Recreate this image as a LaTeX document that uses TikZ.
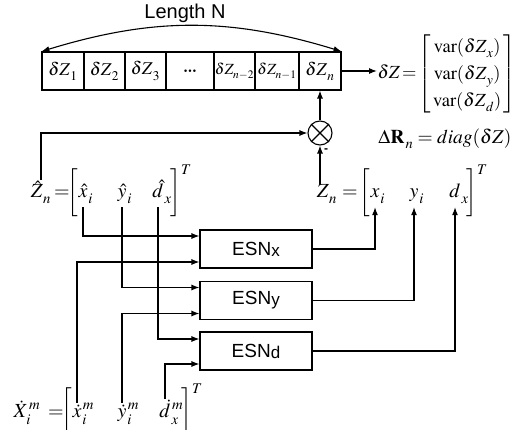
\documentclass[tikz,border=0pt]{standalone}
\usepackage{mathptmx}
\usepackage[no-math]{fontspec}
\newfontfamily\arialfont{Liberation Sans}
\usetikzlibrary{arrows.meta}
\newcommand{\lsb}[1]{_{\raisebox{-2.5pt}{$\scriptstyle\hspace{1pt}#1$}}}
\newcommand{\lsup}[1]{^{\hspace{1.5pt}#1}}
\begin{document}
\begin{tikzpicture}[x=1pt,y=-1pt,
  >={Latex[length=8pt,width=6pt]}, line width=1.1pt,
  mt/.style={font=\fontsize{20}{24}\selectfont, inner sep=0pt, anchor=base},
  cell/.style={draw, minimum height=38pt, inner sep=0pt, font=\fontsize{18}{22}\selectfont},
  esn/.style={draw, minimum width=112pt, minimum height=38pt, inner sep=0pt, font=\arialfont\fontsize{19}{22}\selectfont}]
\useasboundingbox (0,0) rectangle (522,430);

% buffer
\node[cell, minimum width=42pt] (c1) at (63,71) {$\delta Z\lsb{1}$};
\node[cell, minimum width=41pt] (c2) at (104.5,71) {$\delta Z\lsb{2}$};
\node[cell, minimum width=41pt] (c3) at (145.5,71) {$\delta Z\lsb{3}$};
\node[cell, minimum width=48pt] (c4) at (190,71) {\textbf{\dots}};
\node[cell, minimum width=41pt, font=\fontsize{15.5}{18}\selectfont] (c5) at (234.5,71) {$\delta Z_{\raisebox{-2pt}{$\scriptstyle n-2$}}$};
\node[cell, minimum width=44pt, font=\fontsize{15.5}{18}\selectfont] (c6) at (277,71) {$\delta Z_{\raisebox{-2pt}{$\scriptstyle n-1$}}$};
\node[cell, minimum width=42pt] (c7) at (320,71) {$\delta Z\lsb{n}$};
\draw[<->] (c1.north west) to[bend left=17] (c7.north east);
\node[font=\arialfont\fontsize{20}{22}\selectfont, inner sep=0pt] (len) at (185,13) {Length N};

% delta Z
\renewcommand{\arraystretch}{1.2}
\node[font=\fontsize{18.5}{22.5}\selectfont, inner sep=0pt, anchor=west] (dz) at (377,74)
  {$\delta Z\mkern-2mu=\mkern-2mu\left[\begin{array}{@{\,}c@{\,}}\mathrm{var}(\delta Z\lsb{x})\\ \mathrm{var}(\delta Z\lsb{y})\\ \mathrm{var}(\delta Z\lsb{d})\end{array}\right]$};
\draw[->] (c7.east) -- (c7.east -| dz.west);
\node[font=\fontsize{19.5}{23}\selectfont, inner sep=0pt] (dr) at (445,139) {$\Delta\mathbf{R}\lsb{n} = diag(\delta Z)$};

% multiplier
\node[draw, circle, minimum size=24pt, inner sep=0pt] (m) at (320,133) {};
\draw (m.north west) -- (m.south east);
\draw (m.north east) -- (m.south west);
\draw[->] (m.north) -- (c7.south);
\node[font=\arialfont\bfseries\fontsize{12}{12}\selectfont, inner sep=0pt] (minus) at (326,151) {-};

% hat row
\node[mt] (xh) at (83,198) {$\hat{x}\rlap{$\lsb{i}$}$};
\node[mt] (yh) at (122,198) {$\hat{y}\rlap{$\lsb{i}$}$};
\node[mt] (dh) at (158,198) {$\hat{d}\rlap{$\lsb{x}$}$};
\node[mt, anchor=base east] (lbh) at ([xshift=1pt]xh.base west) {$\bigg[$};
\node[mt] (eqh) at (62,198) {$=$};
\node[mt] (Zh) at (41,198) {$\hat{Z}\lsb{n}$};
\node[mt, anchor=base west] (rbh) at (170,198) {$\bigg]^{T}$};

% Z row
\node[mt] (xz) at (375,198) {$x\rlap{$\lsb{i}$}$};
\node[mt] (yz) at (414,198) {$y\rlap{$\lsb{i}$}$};
\node[mt] (dz2) at (455,198) {$d\rlap{$\lsb{x}$}$};
\node[mt, anchor=base east] (lbz) at ([xshift=1pt]xz.base west) {$\bigg[$};
\node[mt] (eqz) at (350,198) {$=$};
\node[mt] (Zn) at (327,198) {$Z\lsb{n}$};
\node[mt, anchor=base west] (rbz) at (466,198) {$\bigg]^{T}$};

% bottom row
\node[mt] (xd) at (77,417) {$\dot{x}\rlap{$\lsup{m}\lsb{i}$}$};
\node[mt] (yd) at (122,417) {$\dot{y}\rlap{$\lsup{m}\lsb{i}$}$};
\node[mt] (dd) at (165,417) {$\dot{d}\rlap{$\lsup{m}\lsb{x}$}$};
\node[mt, anchor=base east] (lbd) at ([xshift=1pt]xd.base west) {$\bigg[$};
\node[mt] (eqd) at (56,417) {$=$};
\node[mt] (Xd) at (27,417) {$\dot{X}\lsup{m}\lsb{i}$};
\node[mt, anchor=base west] (rbd) at (181,417) {$\bigg]^{T}$};

% ESN boxes
\node[esn] (ex) at (256,249) {ESN{\fontsize{17}{17}\selectfont\raisebox{-1pt}{x}}};
\node[esn] (ey) at (256,300.5) {ESN{\fontsize{17}{17}\selectfont\raisebox{-1pt}{y}}};
\node[esn] (ed) at (256,351) {ESN{\fontsize{17}{17}\selectfont\raisebox{-1pt}{d}}};

% feedback
\draw[->] (Zh.north) |- (m.west);
\draw[->] (m.south |- Zn.north) -- (m.south);

% inputs
\draw[->] ([yshift=-3pt]xh.south) |- ([yshift=13pt]ex.west);
\draw[->] (xd.north) |- ([yshift=-13pt]ex.west);
\draw[->] ([yshift=-3pt]yh.south) |- ([yshift=13pt]ey.west);
\draw[->] (yd.north) |- ([yshift=-13pt]ey.west);
\draw[->] ([yshift=-3pt]dh.south) |- ([yshift=12pt]ed.west);
\draw[->] (dd.north) |- ([yshift=-13pt]ed.west);

% outputs
\draw[->] (ex.east) -| ([yshift=-3pt]xz.south);
\draw[->] (ey.east) -| ([yshift=-3pt]yz.south);
\draw[->] (ed.east) -| ([yshift=-3pt]dz2.south);
\end{tikzpicture}
\end{document}
